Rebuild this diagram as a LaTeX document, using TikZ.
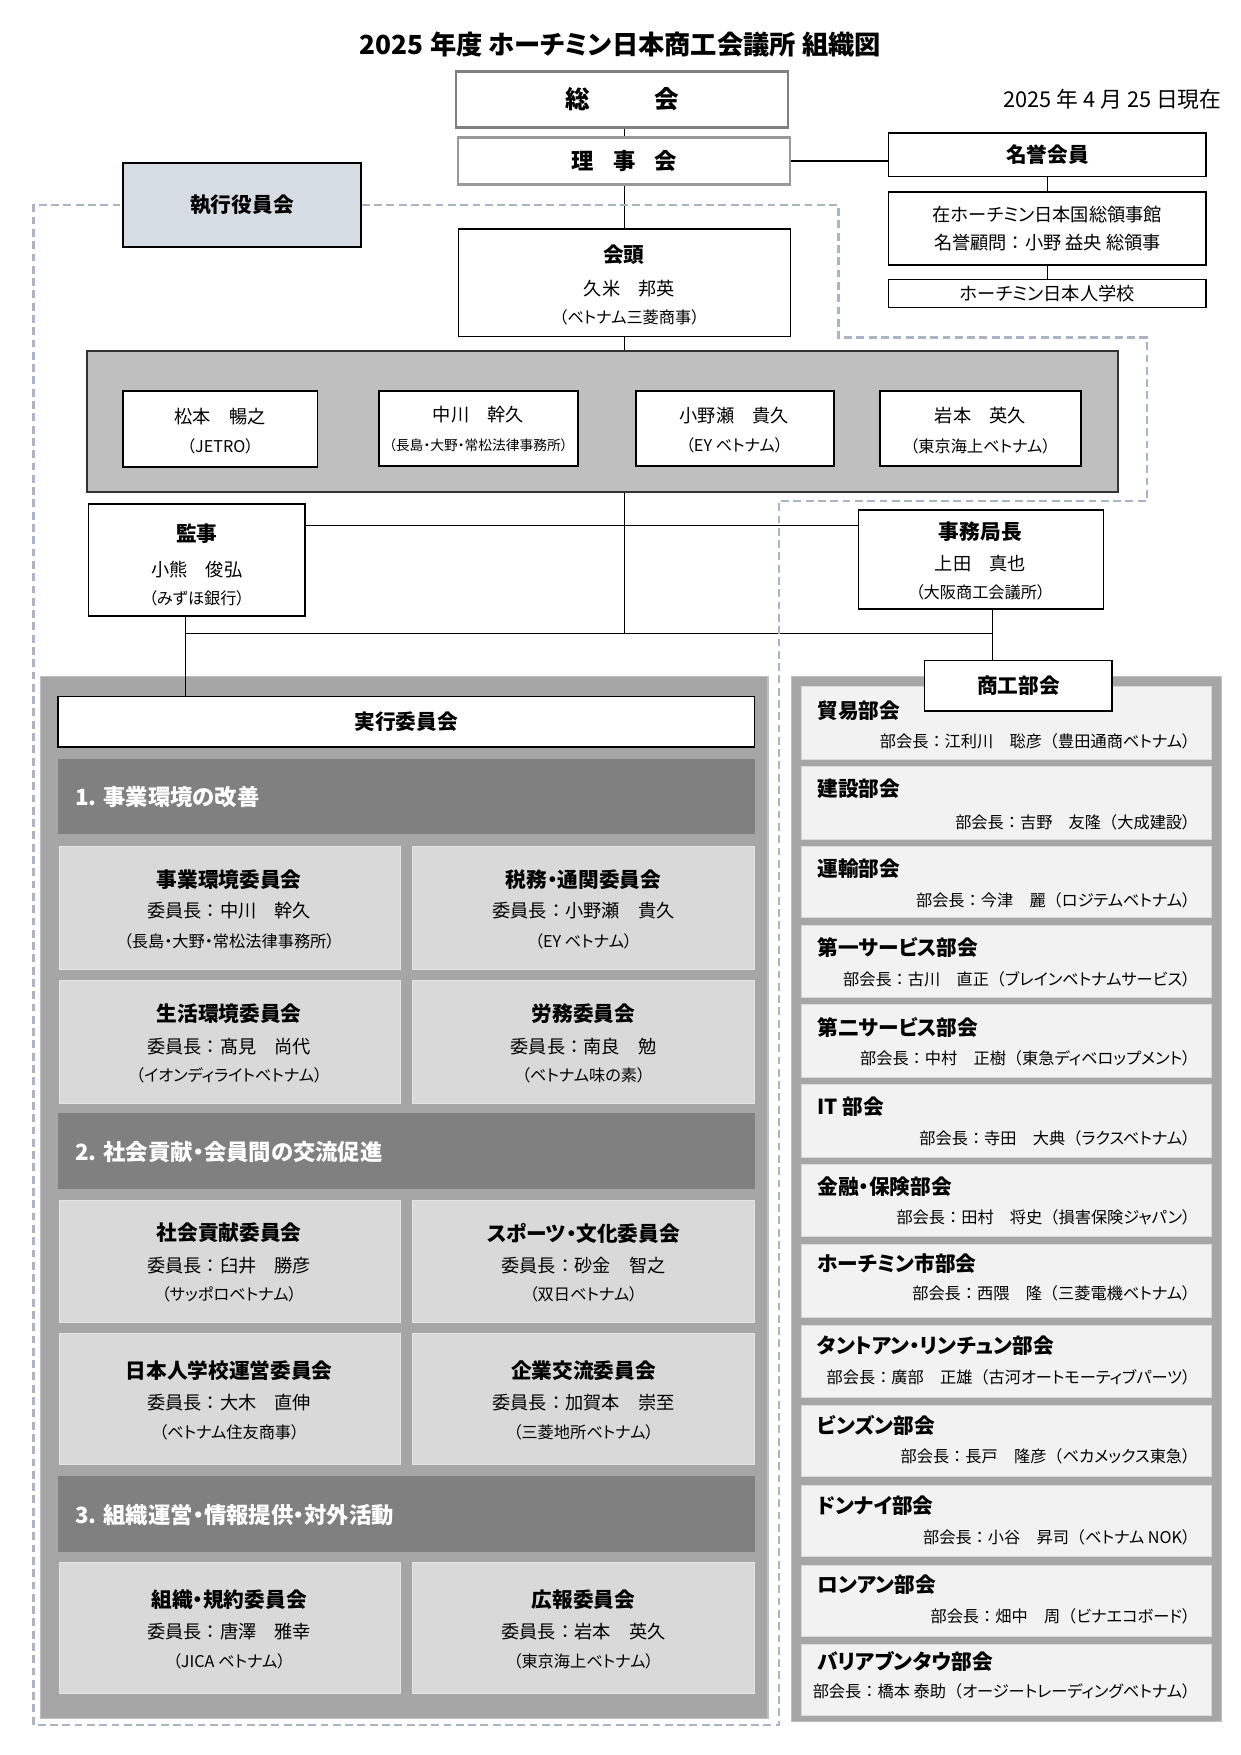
\documentclass[tikz,border=0pt]{standalone}
\usepackage{fontspec}
\setmainfont{Noto Sans CJK JP}[RawFeature=+palt]
\newfontfamily\npfont{Noto Sans CJK JP}
\newcommand\fcl{{\npfont ：}}
\newcommand\fop{{\npfont （}}
\definecolor{dsh}{HTML}{A9B5C7}
\definecolor{panel}{HTML}{A6A6A6}
\definecolor{sect}{HTML}{808080}
\definecolor{comm}{HTML}{D9D9D9}
\definecolor{bukai}{HTML}{F2F2F2}
\definecolor{execc}{HTML}{D6DCE4}
\definecolor{boardc}{HTML}{BFBFBF}
\newcommand\rbox[6]{\node[#2, minimum width={(#5-#3)*1pt}, minimum height={(#6-#4)*1pt}] (#1) at ({(#3+#5)/2},{(#4+#6)/2}) {};}
\begin{document}
\begin{tikzpicture}[x=1pt,y=-1pt,
  wbox/.style={draw=black, line width=1.4pt, fill=white, inner sep=0pt},
  gbox/.style={draw=#1, line width=2pt, fill=white, inner sep=0pt},
  conn/.style={line width=1pt, draw=black},
  dashline/.style={draw=dsh, line width=2.1pt, dash pattern=on 7pt off 4pt},
  ttl/.style={font=\fontsize{23.5}{26}\selectfont\bfseries, inner sep=0pt},
  hd/.style={font=\fontsize{18.5}{21}\selectfont\bfseries, inner sep=0pt},
  nm/.style={font=\fontsize{16.3}{18}\selectfont, inner sep=0pt},
  sm/.style={font=\fontsize{14.5}{16}\selectfont, inner sep=0pt},
  sec/.style={font=\fontsize{20}{22}\selectfont\bfseries, text=white, inner sep=0pt, anchor=west},
  subr/.style={font=\fontsize{14.5}{17}\selectfont, inner sep=0pt, anchor=east},
  hdl/.style={font=\fontsize{18.5}{21}\selectfont\bfseries, inner sep=0pt, anchor=west},
  panelbox/.style={fill=panel, draw=boardc, line width=1pt, inner sep=0pt},
  secbox/.style={fill=sect, draw=none, inner sep=0pt},
  commbox/.style={fill=comm, draw=white!90!black, line width=0.8pt, inner sep=0pt},
  bukbox/.style={fill=bukai, draw=comm, line width=0.8pt, inner sep=0pt}
]
\useasboundingbox (0,0) rectangle (1110,1570);

% title and date
\node[ttl] (title) at (555,40) {2025 年度 ホーチミン日本商工会議所 組織図};
\node[font=\fontsize{19.5}{21}\selectfont, inner sep=0pt, anchor=east] (date) at (1093,89) {2025 年 4 月 25 日現在};

% top boxes
\rbox{soukai}{gbox=black!50}{408}{64}{705}{114}
\node[font=\fontsize{22}{24}\selectfont\bfseries, inner sep=0pt] (soukaiT) at (soukai) {総\hspace{58pt}会};
\rbox{riji}{gbox=black!40}{410}{123}{707}{165}
\node[font=\fontsize{20}{22}\selectfont\bfseries, inner sep=0pt] (rijiT) at (riji) {理\hspace{17pt}事\hspace{17pt}会};

\rbox{meiyo}{wbox}{795}{119}{1079}{158}
\node[hd] (meiyoT) at (meiyo) {名誉会員};
\rbox{ryoji}{wbox}{795}{172}{1079}{237}
\node[nm] (ryoji1) at (937,192) {在ホーチミン日本国総領事館};
\node[nm] (ryoji2) at (937,217) {名誉顧問\fcl 小野 益央 総領事};
\rbox{school}{wbox}{795}{250}{1079}{275}
\node[nm] (schoolT) at (school) {ホーチミン日本人学校};

\rbox{exec}{wbox, fill=execc}{110}{146}{323}{221}
\node[hd] (execT) at (exec) {執行役員会};

\rbox{kaito}{wbox}{410}{205}{707}{301}
\node[hd] (kaito1) at (558,228) {会頭};
\node[nm] (kaito2) at (563,258) {久米　邦英};
\node[sm] (kaito3) at (563,284) {（ベトナム三菱商事）};

% board
\rbox{board}{wbox, fill=boardc, draw=black!80}{78}{314}{1000}{440}
\rbox{b1}{wbox}{110}{350}{284}{418}
\node[nm] (b1a) at (197,373) {松本　暢之};
\node[sm] (b1b) at (197,399) {（JETRO）};
\rbox{b2}{wbox}{339}{350}{517}{417}
\node[nm] (b2a) at (428,371) {中川　幹久};
\node[font=\fontsize{12.3}{14}\selectfont, inner sep=0pt] (b2b) at (428,398) {（長島・大野・常松法律事務所）};
\rbox{b3}{wbox}{569}{350}{746}{417}
\node[nm] (b3a) at (657,372) {小野瀬　貴久};
\node[sm] (b3b) at (657,398) {（EY ベトナム）};
\rbox{b4}{wbox}{787}{350}{967}{417}
\node[nm] (b4a) at (877,372) {岩本　英久};
\node[sm] (b4b) at (877,399) {（東京海上ベトナム）};

% auditor and secretary general
\rbox{kansa}{wbox}{79}{451}{273}{551}
\node[hd] (kansa1) at (176,477) {監事};
\node[nm] (kansa2) at (176,510) {小熊　俊弘};
\node[sm] (kansa3) at (176,535) {（みずほ銀行）};
\rbox{jimu}{wbox}{768}{456}{987}{545}
\node[hd] (jimu1) at (877,476) {事務局長};
\node[nm] (jimu2) at (877,504) {上田　真也};
\node[sm] (jimu3) at (877,530) {（大阪商工会議所）};

% left panel
\rbox{lpanel}{panelbox}{36}{605}{687}{1537}
\rbox{jikko}{wbox}{52}{623}{675}{668}
\node[hd] (jikkoT) at (jikko) {実行委員会};

\rbox{s1}{secbox}{52}{679}{675}{746}
\node[sec] (s1T) at (67,713) {1. 事業環境の改善};
\rbox{s2}{secbox}{52}{996}{675}{1064}
\node[sec] (s2T) at (67,1031) {2. 社会貢献・会員間の交流促進};
\rbox{s3}{secbox}{52}{1320}{675}{1388}
\node[sec] (s3T) at (67,1355) {3. 組織運営・情報提供・対外活動};

\foreach \n/\top/\bot/\ya/\yb/\yc/\ta/\tb/\tc/\ua/\ub/\uc in {
  1/757/867/787/815/842/事業環境委員会/委員長\fcl 中川　幹久/（長島・大野・常松法律事務所）/税務・通関委員会/委員長\fcl 小野瀬　貴久/（EY ベトナム）,
  2/877/987/907/936/962/生活環境委員会/委員長\fcl 髙見　尚代/（イオンディライトベトナム）/労務委員会/委員長\fcl 南良　勉/（ベトナム味の素）,
  3/1074/1183/1103/1132/1158/社会貢献委員会/委員長\fcl 臼井　勝彦/（サッポロベトナム）/スポーツ・文化委員会/委員長\fcl 砂金　智之/（双日ベトナム）,
  4/1193/1310/1226/1255/1281/日本人学校運営委員会/委員長\fcl 大木　直伸/（ベトナム住友商事）/企業交流委員会/委員長\fcl 加賀本　崇至/（三菱地所ベトナム）,
  5/1398/1515/1431/1460/1486/組織・規約委員会/委員長\fcl 唐澤　雅幸/（JICA ベトナム）/広報委員会/委員長\fcl 岩本　英久/（東京海上ベトナム）}
{
  \rbox{cl\n}{commbox}{53}{\top}{358}{\bot}
  \node[hd] (cla\n) at (205,\ya) {\ta};
  \node[nm] (clb\n) at (205,\yb) {\tb};
  \node[sm] (clc\n) at (205,\yc) {\tc};
  \rbox{cr\n}{commbox}{369}{\top}{675}{\bot}
  \node[hd] (cra\n) at (522,\ya) {\ua};
  \node[nm] (crb\n) at (522,\yb) {\ub};
  \node[sm] (crc\n) at (522,\yc) {\uc};
}

% right panel
\rbox{rpanel}{panelbox}{708}{605}{1093}{1540}
\foreach \n/\top/\bot/\ya/\yb/\ta/\tb in {
  1/614/679/636/663/貿易部会/部会長\fcl 江利川　聡彦\fop 豊田通商ベトナム）,
  2/686/751/706/736/建設部会/部会長\fcl 吉野　友隆\fop 大成建設）,
  3/757/821/777/805/運輸部会/部会長\fcl 今津　麗\fop ロジテムベトナム）,
  4/828/892/848/876/第一サービス部会/部会長\fcl 古川　直正\fop ブレインベトナムサービス）,
  5/899/964/919/947/第二サービス部会/部会長\fcl 中村　正樹\fop 東急ディベロップメント）,
  6/970/1035/990/1018/IT 部会/部会長\fcl 寺田　大典\fop ラクスベトナム）,
  7/1042/1106/1062/1089/金融・保険部会/部会長\fcl 田村　将史\fop 損害保険ジャパン）,
  8/1113/1179/1130/1157/ホーチミン市部会/部会長\fcl 西隈　隆\fop 三菱電機ベトナム）,
  9/1186/1250/1204/1232/タントアン・リンチュン部会/部会長\fcl 廣部　正雄\fop 古河オートモーティブパーツ）,
  10/1257/1321/1275/1303/ビンズン部会/部会長\fcl 長戸　隆彦\fop ベカメックス東急）,
  11/1329/1392/1347/1375/ドンナイ部会/部会長\fcl 小谷　昇司\fop ベトナム NOK）,
  12/1400/1464/1418/1446/ロンアン部会/部会長\fcl 畑中　周\fop ビナエコボード）,
  13/1471/1535/1486/1513/バリアブンタウ部会/部会長\fcl 橋本 泰助\fop オージートレーディングベトナム）}
{
  \rbox{r\n}{bukbox}{717}{\top}{1084}{\bot}
  \node[hdl] (ra\n) at (731,\ya) {\ta};
  \node[subr] (rb\n) at (1065,\yb) {\tb};
}
\rbox{shoko}{wbox}{827}{591}{995}{636}
\node[hd] (shokoT) at (shoko) {商工部会};

% connectors
\coordinate (jL) at (166,567);
\coordinate (jR) at (888,567);
\coordinate (h) at (0,470);
\draw[conn] (soukai.south -| riji.north) -- (riji.north);
\draw[conn] (riji.east) -- (riji.east -| meiyo.west);
\draw[conn] (meiyo.south) -- (ryoji.north);
\draw[conn] (ryoji.south) -- (school.north);
\draw[conn] (riji.south) -- (kaito.north);
\draw[conn] (kaito.south) -- (kaito.south |- board.north);
\draw[conn] (kaito.south |- board.south) -- (kaito.south |- jL);
\draw[conn] (kansa.east |- h) -- (jimu.west |- h);
\draw[conn] (jL) -- (jR);
\draw[conn] (jL |- kansa.south) -- (jL |- jikko.north);
\draw[conn] (jR |- jimu.south) -- (jR |- shoko.north);

% dashed boundary
\coordinate (d1) at (750,302);
\coordinate (d2) at (1026,448);
\coordinate (d3) at (697,1543);
\coordinate (d4) at (30,1543);
\draw[dashline] (exec.east) -| (d1) -| (d2) -| (d3) -- (d4) |- (exec.west);
\end{tikzpicture}
\end{document}
